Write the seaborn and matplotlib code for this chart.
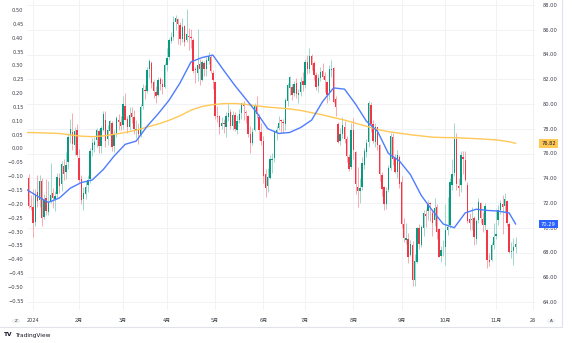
import numpy as np
import pandas as pd
import matplotlib
matplotlib.use("Agg")
import matplotlib.pyplot as plt
import matplotlib.transforms as mtransforms
from matplotlib.patches import Circle
import seaborn as sns

# ---- daily candles (WTI crude, continuous contract) ----
holidays = ["2024-01-01", "2024-01-15", "2024-02-19", "2024-03-29",
            "2024-05-27", "2024-06-19", "2024-07-04", "2024-09-02"]
dates = pd.bdate_range("2023-12-27", "2024-11-14")
dates = dates[~dates.isin(pd.to_datetime(holidays))]

opens = [75.47, 74.05, 71.73, 71.65, 70.45, 72.86, 72.28, 73.77, 70.90, 72.38,
         71.30, 72.16, 72.82, 72.30, 72.72, 74.04, 73.53, 75.03, 74.53, 75.30,
         77.46, 77.77, 76.66, 77.90, 75.66, 73.90, 72.35, 72.74, 73.44, 73.96,
         76.28, 76.70, 77.10, 77.80, 76.59, 77.93, 78.73, 77.14, 77.79, 78.43,
         76.58, 77.63, 78.70, 78.53, 78.27, 79.86, 78.76, 78.11, 79.30, 78.97,
         77.90, 77.99, 77.46, 79.85, 81.13, 81.04, 82.80, 83.29, 81.76, 80.99,
         80.70, 82.03, 81.58, 81.34, 83.17, 83.77, 85.09, 85.40, 86.64, 86.87,
         86.36, 85.29, 86.29, 85.18, 85.53, 85.45, 85.19, 82.82, 82.48, 83.20,
         81.97, 83.29, 82.85, 83.49, 83.81, 82.52, 81.77, 79.00, 79.00, 78.21,
         78.40, 78.16, 78.97, 79.32, 78.21, 79.09, 77.91, 78.72, 79.25, 79.99,
         79.33, 79.01, 77.55, 76.82, 77.88, 79.87, 78.96, 77.70, 77.03, 74.35,
         73.38, 74.05, 75.51, 75.63, 77.73, 78.03, 78.71, 78.55, 78.40, 80.25,
         81.30, 81.36, 80.90, 81.69, 80.70, 80.93, 81.87, 81.54, 83.40, 82.81,
         83.90, 83.33, 82.35, 81.45, 82.12, 82.65, 82.23, 81.78, 80.77, 82.74,
         82.91, 80.39, 78.37, 77.04, 77.61, 78.17, 77.15, 75.70, 74.88, 77.90,
         76.13, 73.28, 72.94, 73.29, 75.09, 76.14, 76.91, 79.95, 78.37, 76.89,
         78.13, 76.68, 74.27, 73.30, 71.93, 73.08, 74.79, 77.33, 75.60, 74.54,
         75.72, 73.71, 70.27, 69.04, 69.08, 67.76, 68.60, 65.79, 67.26, 69.96,
         68.63, 70.02, 71.13, 71.38, 72.00, 71.23, 70.60, 71.70, 69.89, 67.72,
         68.17, 68.45, 69.81, 70.24, 73.45, 74.41, 77.14, 73.39, 73.43, 75.70,
         75.50, 73.47, 70.67, 70.62, 70.77, 69.07, 70.64, 72.02, 70.72, 70.26,
         69.80, 67.40, 67.37, 68.57, 69.35, 70.63, 71.41, 71.89, 71.76, 72.20,
         70.31, 68.02, 68.13, 68.43]
highs = [75.95, 74.34, 72.65, 73.13, 73.17, 74.25, 74.24, 74.00, 72.70, 73.93,
         73.77, 75.27, 73.23, 72.94, 74.39, 74.40, 75.41, 75.57, 76.13, 77.68,
         78.82, 79.29, 78.14, 78.40, 76.37, 74.25, 73.27, 73.74, 74.23, 76.42,
         77.23, 77.32, 78.06, 78.02, 78.20, 79.42, 79.47, 78.31, 78.70, 78.61,
         77.86, 79.04, 79.20, 79.00, 80.62, 80.85, 79.04, 79.72, 79.74, 79.53,
         78.67, 78.48, 79.99, 81.61, 81.51, 82.99, 83.60, 83.44, 81.94, 81.42,
         82.18, 82.21, 82.00, 83.28, 84.49, 85.37, 85.79, 87.10, 87.17, 86.94,
         86.64, 86.98, 86.36, 87.67, 86.12, 86.08, 85.36, 83.02, 86.06, 83.64,
         83.53, 83.50, 83.82, 84.21, 84.01, 82.71, 81.79, 79.87, 79.10, 78.97,
         78.82, 79.37, 79.99, 79.59, 79.44, 79.35, 79.10, 79.63, 80.07, 80.22,
         79.55, 79.13, 78.24, 78.04, 80.11, 80.62, 79.20, 78.44, 77.40, 74.76,
         74.85, 75.85, 76.05, 77.86, 78.26, 79.05, 78.81, 78.77, 80.48, 81.70,
         82.25, 81.58, 81.89, 82.13, 81.23, 82.18, 82.58, 83.61, 83.98, 84.52,
         84.07, 83.44, 82.55, 82.46, 83.02, 83.29, 82.56, 81.89, 83.13, 83.58,
         82.99, 80.65, 78.57, 78.04, 78.93, 78.62, 77.43, 75.97, 78.49, 78.85,
         76.17, 74.87, 74.01, 75.71, 76.46, 77.16, 80.22, 80.15, 78.70, 78.45,
         78.18, 76.80, 74.47, 73.41, 73.28, 75.06, 77.66, 77.64, 75.97, 76.31,
         75.91, 74.16, 70.75, 70.39, 69.58, 69.03, 68.89, 67.88, 70.05, 70.32,
         70.25, 71.46, 71.48, 72.26, 72.11, 71.51, 72.41, 71.88, 70.01, 68.56,
         69.00, 71.91, 72.50, 74.00, 75.57, 78.46, 77.66, 74.05, 76.18, 76.21,
         76.17, 73.70, 71.23, 71.68, 70.96, 70.68, 72.43, 72.08, 71.29, 72.00,
         69.89, 67.93, 68.85, 70.36, 71.54, 71.87, 72.26, 72.63, 72.81, 72.28,
         70.48, 68.82, 69.17, 69.24]
lows = [73.76, 71.57, 71.41, 69.28, 70.13, 71.67, 71.69, 70.13, 70.73, 71.03,
        71.05, 72.02, 71.61, 71.38, 72.37, 72.84, 72.95, 73.85, 73.94, 74.77,
        76.86, 76.27, 75.84, 75.71, 73.62, 71.91, 71.40, 72.30, 72.92, 73.63,
        75.76, 76.16, 76.55, 76.08, 76.08, 77.78, 76.56, 76.72, 77.45, 76.20,
        76.14, 77.30, 77.88, 77.86, 78.01, 78.71, 77.63, 77.93, 78.43, 77.60,
        77.23, 76.79, 77.33, 79.63, 80.44, 80.92, 82.14, 81.26, 80.47, 80.08,
        80.67, 81.17, 80.81, 81.27, 82.70, 83.52, 84.89, 85.14, 86.01, 84.85,
        84.75, 84.98, 84.71, 85.00, 84.37, 84.50, 82.54, 81.70, 81.88, 81.56,
        81.84, 82.26, 82.27, 83.20, 82.49, 81.23, 78.81, 78.57, 77.58, 77.96,
        77.65, 77.37, 78.65, 77.95, 77.91, 77.79, 77.57, 78.47, 78.78, 78.73,
        78.50, 77.33, 76.04, 76.66, 77.82, 78.89, 77.09, 76.68, 73.59, 72.48,
        72.92, 73.94, 74.44, 75.35, 77.11, 77.86, 77.64, 77.65, 77.88, 79.87,
        80.75, 80.31, 80.63, 80.47, 80.09, 80.67, 81.08, 81.32, 82.39, 82.52,
        82.71, 81.97, 81.14, 80.98, 81.89, 81.98, 81.01, 80.12, 80.31, 82.17,
        80.11, 79.03, 76.85, 76.71, 77.25, 76.85, 75.35, 74.57, 74.75, 75.57,
        72.71, 71.67, 72.04, 73.02, 74.78, 75.75, 76.55, 77.70, 76.81, 76.56,
        76.25, 73.75, 72.53, 71.46, 71.51, 72.86, 74.63, 75.05, 74.43, 74.06,
        73.25, 70.00, 68.82, 68.66, 67.17, 67.71, 65.27, 65.30, 67.13, 68.30,
        68.47, 69.36, 70.07, 70.63, 70.54, 69.37, 70.15, 69.13, 67.61, 67.21,
        67.68, 66.98, 69.40, 69.99, 73.04, 74.20, 73.08, 72.53, 72.89, 74.35,
        73.77, 70.39, 69.82, 69.83, 68.61, 68.71, 70.36, 70.41, 69.66, 69.82,
        66.72, 66.94, 67.30, 68.25, 69.11, 70.19, 71.15, 69.50, 71.22, 70.14,
        67.92, 67.53, 66.95, 67.96]
closes = [74.11, 71.77, 71.65, 70.38, 72.70, 72.19, 73.81, 70.77, 72.24, 71.37,
          72.02, 72.68, 72.40, 72.56, 74.08, 73.41, 75.19, 74.37, 75.09, 77.36,
          78.01, 76.78, 77.82, 75.85, 73.82, 72.28, 72.78, 73.31, 73.86, 76.22,
          76.84, 76.92, 77.87, 76.64, 78.03, 79.19, 77.04, 77.91, 78.61, 76.49,
          77.58, 78.87, 78.54, 78.26, 79.97, 78.74, 78.15, 79.13, 78.93, 78.01,
          77.93, 77.56, 79.72, 81.26, 81.04, 82.72, 83.47, 81.68, 81.07, 80.63,
          81.95, 81.62, 81.35, 83.17, 83.71, 85.15, 85.43, 86.59, 86.91, 86.43,
          85.23, 86.21, 85.02, 85.66, 85.41, 85.36, 82.69, 82.73, 83.14, 82.85,
          83.36, 82.81, 83.57, 83.85, 82.63, 81.93, 79.00, 78.95, 78.11, 78.48,
          78.38, 78.99, 79.26, 78.26, 79.12, 78.02, 78.63, 79.23, 80.06, 79.80,
          79.26, 77.57, 76.87, 77.72, 79.83, 79.23, 77.91, 76.99, 74.22, 73.25,
          74.07, 75.55, 75.53, 77.74, 77.90, 78.50, 78.62, 78.45, 80.33, 81.57,
          82.17, 80.73, 81.63, 80.83, 80.90, 81.74, 81.54, 83.38, 82.81, 83.88,
          83.16, 82.33, 81.41, 82.10, 82.62, 82.21, 81.91, 80.76, 82.85, 82.82,
          80.13, 79.78, 76.96, 77.59, 78.28, 77.16, 75.81, 74.73, 77.91, 76.31,
          73.52, 72.94, 73.20, 75.23, 76.19, 76.84, 80.06, 78.35, 76.98, 78.16,
          76.65, 74.37, 73.17, 71.93, 73.01, 74.83, 77.42, 75.53, 74.52, 75.91,
          73.55, 70.34, 69.20, 69.15, 67.67, 68.71, 65.75, 67.31, 69.97, 68.65,
          70.09, 71.19, 70.91, 71.95, 71.92, 70.37, 71.56, 69.69, 67.67, 68.18,
          68.17, 69.83, 70.10, 73.71, 74.38, 77.14, 73.57, 73.24, 75.85, 75.56,
          73.83, 70.58, 70.39, 70.67, 69.22, 70.56, 72.09, 70.77, 70.19, 71.78,
          67.38, 67.21, 68.61, 69.26, 69.49, 71.47, 71.99, 71.69, 72.36, 70.38,
          68.04, 68.12, 68.43, 68.70]

# moving averages, one reading every 5 sessions plus the last session
ma_step = 5
ma200 = [77.70, 77.68, 77.65, 77.62, 77.50, 77.40, 77.36, 77.42, 77.55, 77.70,
         77.88, 78.14, 78.38, 78.68, 79.05, 79.50, 79.80, 79.95, 80.03, 80.04,
         79.97, 79.85, 79.75, 79.68, 79.60, 79.48, 79.30, 79.12, 78.90, 78.70,
         78.45, 78.20, 77.95, 77.76, 77.64, 77.52, 77.42, 77.32, 77.29, 77.28,
         77.24, 77.20, 77.15, 77.08, 76.95, 76.82]
ma50 = [73.10, 72.55, 72.05, 72.40, 73.20, 73.65, 73.86, 74.70, 75.80, 76.74,
        77.00, 78.20, 79.20, 80.30, 81.70, 83.40, 83.75, 83.95, 82.70, 81.50,
        80.40, 79.30, 78.00, 77.62, 77.70, 78.10, 78.70, 80.20, 81.30, 81.20,
        80.00, 78.60, 77.80, 76.00, 75.40, 74.30, 72.60, 71.40, 70.30, 70.00,
        71.20, 71.50, 71.40, 71.35, 71.20, 70.29]

# time-axis labels
month_labels = ["2024", "2月", "3月", "4月", "5月", "6月", "7月", "8月",
                "9月", "10月", "11月", "26"]
month_dates = ["2024-01-02", "2024-02-01", "2024-03-01", "2024-04-01",
               "2024-05-01", "2024-06-03", "2024-07-01", "2024-08-01",
               "2024-09-03", "2024-10-01", "2024-11-01", "2024-11-26"]
left_ticks = [round(v, 2) for v in np.arange(-0.55, 0.5001, 0.05)]
right_ticks = list(range(64, 89, 2))

# ---------------------------------------------------------------------------
sns.set_theme(style="white")
plt.rcParams["font.family"] = ["DejaVu Sans", "Noto Sans CJK JP"]

UP, DOWN = "#089981", "#F23645"
UP_WICK, DOWN_WICK = "#9fd8cb", "#f7a9b0"
TXT = "#3a3e4a"
GRID = "#f1f2f6"

n = len(closes)
x = np.arange(n)
o, h, l, c = map(np.asarray, (opens, highs, lows, closes))
up = c >= o

# session index for every date (future sessions extend past the data)
all_sessions = pd.bdate_range(dates[0], "2024-12-31")
all_sessions = all_sessions[~all_sessions.isin(pd.to_datetime(holidays))]
pos = {d: i for i, d in enumerate(all_sessions)}
tick_pos = [pos[pd.Timestamp(d)] for d in month_dates]

W, H = 572, 343
fig = plt.figure(figsize=(W / 100, H / 100), dpi=100)
fig.patch.set_facecolor("white")
ax_l, ax_r, ax_b, ax_t = 27, 535, 310, 0
ax = fig.add_axes([ax_l / W, 1 - ax_b / H, (ax_r - ax_l) / W, (ax_b - ax_t) / H])
ax.set_facecolor("white")
ax2 = ax.twinx()   # secondary scale drawn on the left

# price scale
px_per_unit = 12.375
ax.set_ylim(88 - (ax_b - 5) / px_per_unit, 88 + 5 / px_per_unit)
px_per_bar = 2.194
x0 = tick_pos[0]
ax.set_xlim(x0 - (33 - ax_l) / px_per_bar, x0 + (ax_r - 33) / px_per_bar)

# grid
for tp in tick_pos:
    ax.axvline(tp, color=GRID, lw=0.7, zorder=0)
for rt in right_ticks:
    ax.axhline(rt, color=GRID, lw=0.7, zorder=0)

# candles
ax.vlines(x[up], l[up], h[up], color=UP_WICK, lw=0.7, zorder=2)
ax.vlines(x[~up], l[~up], h[~up], color=DOWN_WICK, lw=0.7, zorder=2)
body_lo = np.minimum(o, c)
body_h = np.maximum(np.abs(c - o), 0.06)
ax.bar(x[up], body_h[up], bottom=body_lo[up], width=0.62, color=UP, lw=0, zorder=3)
ax.bar(x[~up], body_h[~up], bottom=body_lo[~up], width=0.62, color=DOWN, lw=0, zorder=3)

# moving averages
ma_x = list(range(0, n, ma_step))
if ma_x[-1] != n - 1:
    ma_x.append(n - 1)
ma_df = pd.DataFrame({"x": ma_x, "ma200": ma200, "ma50": ma50})
sns.lineplot(data=ma_df, x="x", y="ma200", ax=ax, color="#FFC857", lw=1.0,
             zorder=4, legend=False)
sns.lineplot(data=ma_df, x="x", y="ma50", ax=ax, color="#4E7CFF", lw=1.0,
             zorder=5, legend=False)
for line in ax.get_lines():
    line.set_solid_joinstyle("round")

# right price axis
ax.set_yticks(right_ticks)
ax.set_yticklabels([f"{v:.2f}" for v in right_ticks])
ax.yaxis.tick_right()
ax.tick_params(axis="y", which="both", left=False, labelleft=False, right=False,
               labelright=True, length=0, pad=5.5, labelsize=3.7, labelcolor=TXT)
ax.set_ylabel("")
ax.set_xlabel("")

# time axis
ax.set_xticks(tick_pos)
ax.set_xticklabels(month_labels)
ax.tick_params(axis="x", length=0, pad=5.5, labelsize=3.6, labelcolor=TXT)
for lab in ax.get_xticklabels():
    lab.set_fontfamily(["DejaVu Sans", "Noto Sans CJK JP"])
for sp in ax.spines.values():
    sp.set_visible(False)

# left scale
lpx = 277.0
ax2.set_ylim(0.50 - (ax_b - 10) / lpx, 0.50 + 10 / lpx)
ax2.set_yticks(left_ticks)
ax2.set_yticklabels([f"{v:.2f}".replace("-", "\u2212") for v in left_ticks])
ax2.yaxis.tick_left()
ax2.tick_params(axis="y", left=False, labelleft=True, right=False, labelright=False,
                length=0, pad=2.5, labelsize=3.7, labelcolor=TXT)
ax2.set_ylabel("")
ax2.grid(False)
for sp in ax2.spines.values():
    sp.set_visible(False)

# last-value tags on the price scale
tr = mtransforms.blended_transform_factory(ax.transAxes, ax.transData)
for val, face, fg in ((ma200[-1], "#FFC857", "#131722"), (ma50[-1], "#2962FF", "white")):
    ax.text(1.0265, val, f"{val:.2f}", transform=tr,
            ha="center", va="center", fontsize=3.7, color=fg, zorder=10,
            clip_on=False,
            bbox=dict(boxstyle="square,pad=0.35", fc=face, ec="none"))

# frame of the chart panel
fig.add_artist(plt.Line2D([562 / W, 562 / W], [1 - 327 / H, 1], color="#e0e3eb",
                          lw=0.8, transform=fig.transFigure))
fig.add_artist(plt.Line2D([0, 562 / W], [1 - 327 / H, 1 - 327 / H], color="#e0e3eb",
                          lw=0.8, transform=fig.transFigure))

# small round buttons on the time axis
for cx, label in ((16, "Z"), (551, "A")):
    fig.add_artist(Circle((cx / W, 1 - 321 / H), 4.2 / W, transform=fig.transFigure,
                          fc="#f0f2f6", ec="none"))
    fig.text(cx / W, 1 - 321 / H, label, ha="center", va="center", fontsize=3,
             color=TXT)

# branding
fig.text(4 / W, 1 - 335 / H, "TV", ha="left", va="center", fontsize=4.2,
         fontweight="heavy", color="#131722")
fig.text(15 / W, 1 - 335 / H, "TradingView", ha="left", va="center", fontsize=4.2,
         color="#131722")

fig.savefig("out.png", dpi=100, facecolor="white")
